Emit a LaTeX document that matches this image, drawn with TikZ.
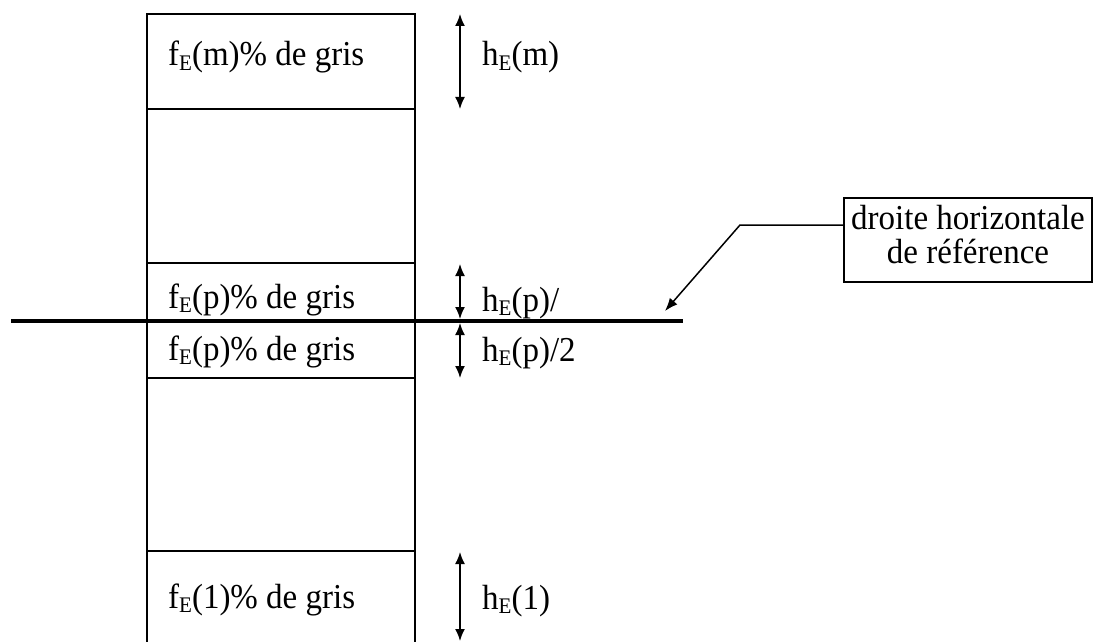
\documentclass[tikz,border=0pt]{standalone}
\usepackage{fontspec}
\usepackage{graphicx}
\setmainfont{Liberation Serif}
\usetikzlibrary{arrows.meta}
\newcommand\sbE{\raisebox{-4pt}{\fontsize{21}{21}\selectfont E}}
\newcommand\tx[1]{\scalebox{1}[1.06]{#1}}
\begin{document}
\begin{tikzpicture}[x=1pt,y=-1pt,
  cell/.style={draw, line width=2.3pt, minimum width=268pt, inner sep=0pt},
  lbl/.style={anchor=base west, inner sep=0pt, font=\fontsize{33}{30}\selectfont},
  reftext/.style={anchor=base, inner sep=0pt, font=\fontsize{33}{30}\selectfont},
  dimarrow/.style={line width=1.7pt, {Latex[length=12pt,width=10pt]}-{Latex[length=12pt,width=10pt]}},
  refbox/.style={draw, line width=1.5pt, minimum width=248pt, minimum height=84pt, inner sep=0pt}]
\useasboundingbox (0,0) rectangle (1093,642);
\clip (0,0) rectangle (1093,642);
% column cells
\node[cell, minimum height=95pt]  (cm)  at (281,61.5) {};
\node[cell, minimum height=154pt] (cb1) at (281,186) {};
\node[cell, minimum height=57pt]  (cpu) at (281,291.5) {};
\node[cell, minimum height=58pt]  (cpl) at (281,349) {};
\node[cell, minimum height=173pt] (cb2) at (281,464.5) {};
\node[cell, minimum height=148pt] (c1)  at (281,625) {};
% cell texts
\node[lbl] (tm)  at (168,66)  {\tx{f\sbE(m)\% de gris}};
\node[lbl] (tpu) at (168,308) {\tx{f\sbE(p)\% de gris}};
\node[lbl] (tpl) at (168,360) {\tx{f\sbE(p)\% de gris}};
\node[lbl] (t1)  at (168,608) {\tx{f\sbE(1)\% de gris}};
% reference line
\coordinate (L) at (11,321);
\coordinate (R) at (683,321);
\draw[line width=4.7pt] (L) -- (R);
% dimension arrows
\coordinate (a1) at (460,14);  \coordinate (a2) at (460,109);
\coordinate (b1) at (460,264); \coordinate (b2) at (460,319);
\coordinate (c1a) at (460,323); \coordinate (c2a) at (460,378);
\coordinate (d1) at (460,552); \coordinate (d2) at (460,641);
\draw[dimarrow] (a1) -- (a2);
\draw[dimarrow] (b1) -- (b2);
\draw[dimarrow] (c1a) -- (c2a);
\draw[dimarrow] (d1) -- (d2);
% dimension labels
\node[lbl] (hm)  at (482,66)  {\tx{h\sbE(m)}};
\node[lbl] (hpu) at (482,311) {\tx{h\sbE(p)/}};
\node[lbl] (hpl) at (482,361) {\tx{h\sbE(p)/2}};
\node[lbl] (h1)  at (482,609) {\tx{h\sbE(1)}};
% reference box and leader
\node[refbox] (ref) at (968,240) {};
\node[reftext] (ref1) at (968,229) {\tx{droite horizontale}};
\node[reftext] (ref2) at (968,263) {\tx{de référence}};
\coordinate (bend) at (740,225);
\coordinate (tip) at (665,311);
\draw[line width=1.5pt, -{Latex[length=13pt,width=10pt]}] (ref.west |- bend) -- (bend) -- (tip);
\end{tikzpicture}
\end{document}
